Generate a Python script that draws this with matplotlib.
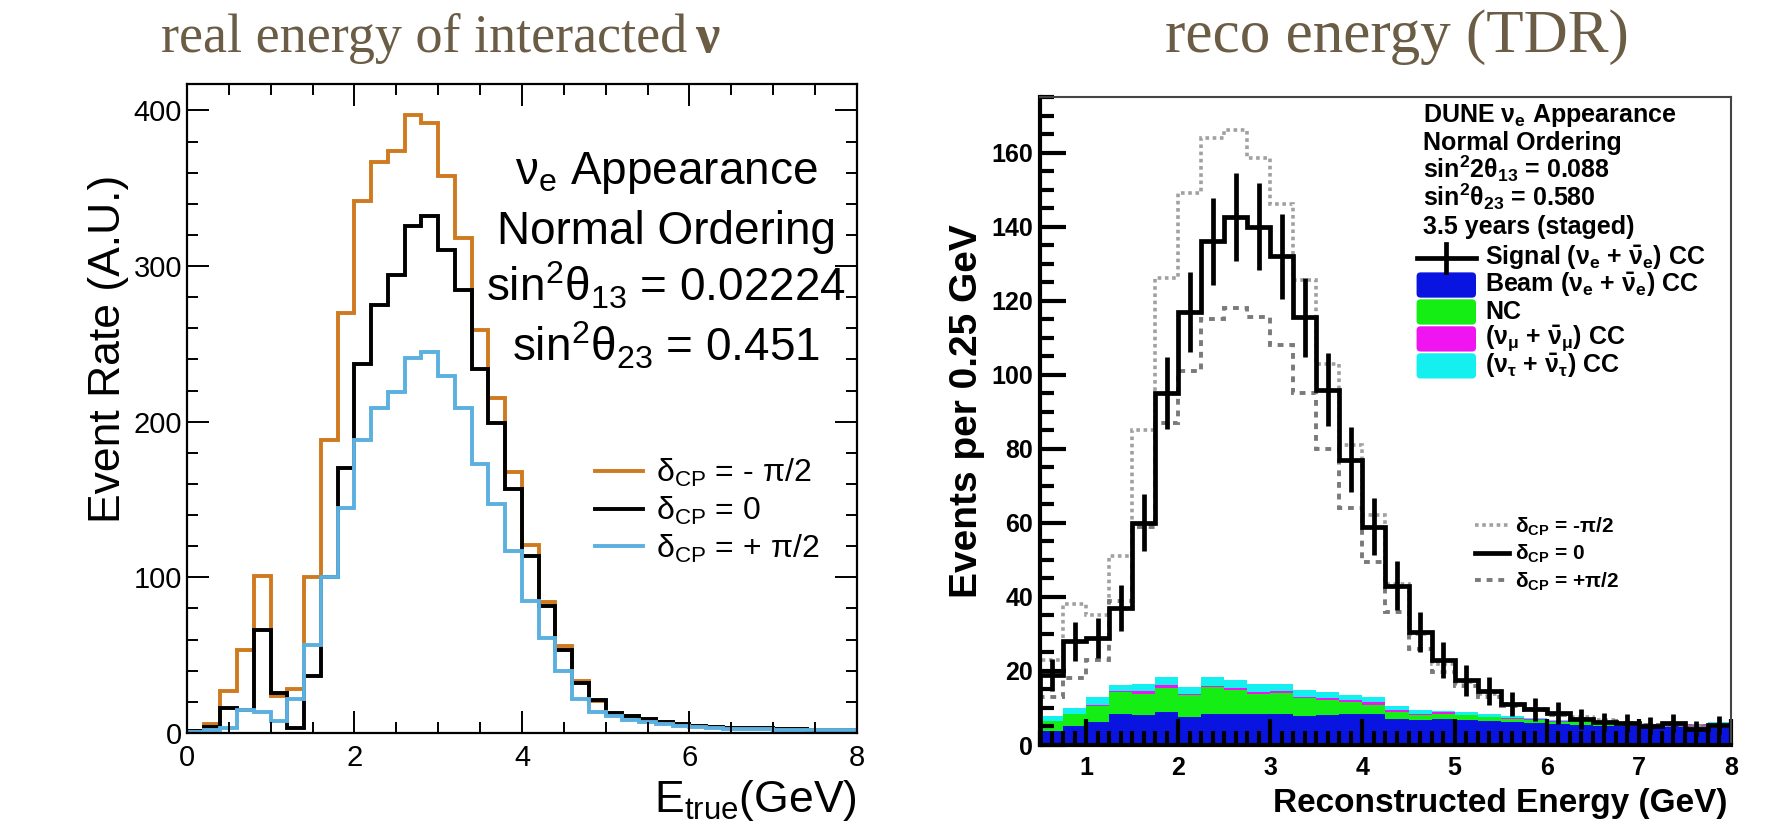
import numpy as np
import matplotlib
matplotlib.use('Agg')
import matplotlib.pyplot as plt
from matplotlib.patches import FancyBboxPatch
from matplotlib.lines import Line2D
from matplotlib.ticker import MultipleLocator

plt.rcParams['font.family'] = ['Liberation Sans', 'DejaVu Sans']
plt.rcParams['mathtext.fontset'] = 'custom'
plt.rcParams['mathtext.rm'] = 'Liberation Sans'
plt.rcParams['mathtext.it'] = 'Liberation Sans:italic'
plt.rcParams['mathtext.bf'] = 'Liberation Sans:bold'

# ---- left panel: true energy, 0.2 GeV bins from 0 to 8 ----
etrue_lo, etrue_hi, etrue_w = 0.0, 8.0, 0.2
rate_minus = [1, 6, 27, 53, 101, 23.5, 28, 100, 188.5, 270, 341.5, 367, 374, 397, 392,
              358, 318, 259, 215, 167.5, 121, 84, 56, 33.5, 20.7, 12.6, 10.6, 9, 7, 5.5,
              4.5, 4, 3.5, 3, 3, 2.5, 2.5, 2, 2, 2]
rate_zero = [1, 4, 16, 15, 66, 26, 3.5, 36.5, 100, 170, 237, 275, 294, 326, 332,
             310.5, 284.5, 234, 199, 157, 114, 81.5, 53.5, 32, 21, 12.6, 11, 9, 7, 5.5,
             4.5, 4, 3.5, 3, 3, 2.5, 2.5, 2, 2, 2]
rate_plus = [0.5, 2, 3.5, 15, 13.5, 8, 22, 56.5, 100, 144.5, 188.5, 208.5, 219, 241, 244.5,
             229.5, 208.5, 173, 147, 117, 85, 61, 40, 22, 13.5, 10.6, 8.6, 7, 5.7, 4.6,
             3.8, 3.2, 2.8, 2.5, 2.3, 2, 2, 1.8, 1.7, 1.6]
left_labels = [r'$\mathregular{\delta_{CP}}$ = - π/2', r'$\mathregular{\delta_{CP}}$ = 0',
               r'$\mathregular{\delta_{CP}}$ = + π/2']

# ---- right panel: reco energy, 0.25 GeV bins from 0.5 to 8 ----
ereco_lo, ereco_hi, ereco_w = 0.5, 8.0, 0.25
sig_zero = [19, 28, 29, 37, 60, 95, 117, 136, 142.5, 140, 132, 115.5, 96, 77, 59,
            43, 30.5, 23, 17.5, 14.7, 11, 9.6, 8.7, 7, 6.2, 6, 5.2, 6, 4.4, 5.4]
sig_err = [4.3, 5.3, 5.4, 6.1, 7.7, 9.7, 10.8, 11.7, 11.9, 11.8, 11.5, 10.7, 9.8, 8.8, 7.7,
           6.6, 5.5, 4.8, 4.2, 3.8, 3.3, 3.1, 3.0, 2.6, 2.5, 2.4, 2.3, 2.4, 2.1, 2.3]
sig_minus = [23, 38, 35, 51, 85, 126, 149, 164, 166, 158.5, 146, 125.5, 103, 81, 62,
             43.5, 30, 22, 17, 13.8, 11, 9.8, 8.5, 7.5, 6.8, 6, 5.5, 5.5, 5, 5.5]
sig_plus = [13, 18, 23, 39, 59, 87, 101, 115, 118, 115.5, 108, 95, 80, 64, 49.5,
            36, 26, 19.6, 16, 13, 10.6, 9.4, 8.2, 7, 6.5, 5.8, 5.3, 5.3, 4.8, 5.2]
bkg_beam = [3.9, 5.0, 6.1, 8.4, 8.2, 9.0, 7.6, 8.5, 8.4, 8.3, 8.4, 7.9, 8.2, 8.4, 8.4,
            7.0, 6.7, 7.0, 6.8, 6.5, 6.2, 6.0, 5.6, 5.4, 5.2, 5.0, 5.0, 5.2, 5.0, 5.3]
bkg_nc = [2.5, 3.4, 4.5, 5.8, 5.7, 6.4, 5.9, 7.1, 6.4, 5.6, 5.6, 4.8, 4.0, 3.1, 2.5,
          2.0, 1.5, 1.4, 1.2, 1.0, 0.9, 0.8, 0.7, 0.7, 0.6, 0.6, 0.5, 0.5, 0.5, 0.5]
bkg_numu = [0.2, 0.1, 0.3, 0.5, 0.6, 0.8, 0.4, 0.4, 0.5, 0.5, 0.5, 0.4, 0.6, 0.6, 0.6,
            0.4, 0.3, 0.4, 0.2, 0.1, 0.1, 0.1, 0.1, 0.1, 0.1, 0.1, 0.1, 0.1, 0.1, 0.1]
bkg_nutau = [1.1, 1.4, 2.0, 1.6, 1.9, 2.1, 1.8, 2.5, 2.2, 2.1, 2.0, 1.7, 1.4, 1.5, 1.4,
             1.2, 1.0, 0.5, 0.6, 0.9, 0.5, 0.4, 0.4, 0.3, 0.3, 0.3, 0.2, 0.2, 0.2, 0.2]
sig_label = r'Signal (ν$_\mathbf{e}$ + $\mathbf{\bar{\nu}_e}$) CC'
bkg_labels = [r'Beam (ν$_\mathbf{e}$ + $\mathbf{\bar{\nu}_e}$) CC', 'NC',
              r'($\mathbf{\nu_\mu}$ + $\mathbf{\bar{\nu}_\mu}$) CC',
              r'($\mathbf{\nu_\tau}$ + $\mathbf{\bar{\nu}_\tau}$) CC']
bkg_colors = ['#0a14e0', '#14ee14', '#f014f0', '#14f0f0']
info_lines = [r'DUNE ν$_\mathbf{e}$ Appearance', 'Normal Ordering',
              r'sin$^\mathbf{2}$2θ$_\mathbf{13}$ = 0.088', r'sin$^\mathbf{2}$θ$_\mathbf{23}$ = 0.580',
              '3.5 years (staged)']

fig = plt.figure(figsize=(17.79, 8.30), dpi=100)
title_color = '#6b5d45'

# ================= left panel =================
axL = fig.add_axes([0.1051, 0.1169, 0.3766, 0.782])
edgesL = np.arange(etrue_lo, etrue_hi + etrue_w / 2, etrue_w)
axL.stairs(rate_minus, edgesL, color='#cf7a1f', lw=2.8, label=left_labels[0])
axL.stairs(rate_zero, edgesL, color='black', lw=2.8, label=left_labels[1])
axL.stairs(rate_plus, edgesL, color='#5cb0e0', lw=2.8, label=left_labels[2])
axL.set_xlim(0, 8)
axL.set_ylim(0, 417)
axL.xaxis.set_major_locator(MultipleLocator(2))
axL.xaxis.set_minor_locator(MultipleLocator(0.5))
axL.yaxis.set_major_locator(MultipleLocator(100))
axL.yaxis.set_minor_locator(MultipleLocator(20))
axL.tick_params(which='both', direction='in', top=True, right=True, width=1.4, labelsize=21)
axL.tick_params(which='major', length=16)
axL.tick_params(which='minor', length=8)
axL.tick_params(axis='x', pad=8)
for sp in axL.spines.values():
    sp.set_linewidth(1.6)

txt_kw = dict(transform=axL.transAxes, ha='center', va='baseline', fontsize=33)
axL.text(0.715, 0.846, r'ν$_\mathregular{e}$ Appearance', **txt_kw)
axL.text(0.715, 0.754, 'Normal Ordering', **txt_kw)
axL.text(0.715, 0.664, r'sin$^\mathregular{2}$θ$_\mathregular{13}$ = 0.02224', **txt_kw)
axL.text(0.715, 0.573, r'sin$^\mathregular{2}$θ$_\mathregular{23}$ = 0.451', **txt_kw)
axL.legend(loc='upper left', bbox_to_anchor=(0.585, 0.45), frameon=False, fontsize=23,
           handlelength=1.5, handletextpad=0.4, labelspacing=0.18, borderpad=0)
fig.text(0.061, 0.58, 'Event Rate (A.U.)', rotation=90, ha='center', va='center', fontsize=32)
fig.text(857 / 1779, 1 - 812 / 830, r'E$_\mathregular{true}$(GeV)', ha='right', va='baseline',
         fontsize=32)
fig.text(0.2385, 1 - 52 / 830, 'real energy of interacted', ha='center', va='baseline',
         fontsize=39, color=title_color, family='Liberation Serif')
fig.text(0.3905, 1 - 52 / 830, 'ν', ha='left', va='baseline', fontsize=39,
         color=title_color, family='Liberation Serif', weight='bold')

# ================= right panel =================
axR = fig.add_axes([0.5846, 0.1024, 0.3884, 0.7807])
edgesR = np.arange(ereco_lo, ereco_hi + ereco_w / 2, ereco_w)
centersR = edgesR[:-1] + ereco_w / 2
base = np.zeros(len(bkg_beam))
for comp, col in zip([bkg_beam, bkg_nc, bkg_numu, bkg_nutau], bkg_colors):
    top = base + np.array(comp)
    axR.stairs(top, edgesR, baseline=base, fill=True, color=col, lw=0)
    base = top
axR.stairs(sig_minus, edgesR, color='#a0a0a0', lw=2.6, ls=(0, (1, 1)))
axR.stairs(sig_plus, edgesR, color='#7a7a7a', lw=2.8, ls=(0, (1.5, 1.5)))
axR.stairs(sig_zero, edgesR, color='black', lw=3.4)
axR.errorbar(centersR, sig_zero, yerr=sig_err, fmt='none', ecolor='black', elinewidth=3.4)
axR.set_xlim(ereco_lo, ereco_hi)
axR.set_ylim(0, 175)
axR.xaxis.set_major_locator(MultipleLocator(1))
axR.xaxis.set_minor_locator(MultipleLocator(0.125))
axR.yaxis.set_major_locator(MultipleLocator(20))
axR.yaxis.set_minor_locator(MultipleLocator(5))
axR.tick_params(which='both', direction='in', width=3, labelsize=18)
axR.tick_params(which='major', length=19)
axR.tick_params(which='minor', length=10)
axR.tick_params(axis='x', pad=8)
axR.tick_params(axis='y', pad=5)
for lab in axR.get_xticklabels() + axR.get_yticklabels():
    lab.set_fontweight('bold')
axR.spines['left'].set_linewidth(3)
axR.spines['bottom'].set_linewidth(3)
for s in ['top', 'right']:
    axR.spines[s].set_linewidth(1.5)
    axR.spines[s].set_color('#444444')

blk_kw = dict(transform=axR.transAxes, ha='left', va='baseline', fontsize=18, weight='bold')
for i, line in enumerate(info_lines):
    axR.text(0.554, 0.961 - i * 0.0432, line, **blk_kw)

# hand-placed legend for signal + background stack
row_y = [0.7515 - i * 0.0416 for i in range(5)]
hx0, hx1, tx = 0.545, 0.631, 0.644
axR.add_line(Line2D([hx0, hx1], [row_y[0], row_y[0]], transform=axR.transAxes,
                    color='black', lw=3.4))
axR.add_line(Line2D([(hx0 + hx1) / 2] * 2, [row_y[0] - 0.021, row_y[0] + 0.021],
                    transform=axR.transAxes, color='black', lw=3.4))
axR.text(tx, row_y[0], sig_label, transform=axR.transAxes, ha='left', va='center',
         fontsize=18, weight='bold')
for y, lab, col in zip(row_y[1:], bkg_labels, bkg_colors):
    axR.add_patch(FancyBboxPatch((hx0 + 0.006, y - 0.0135), hx1 - hx0 - 0.012, 0.027,
                                 boxstyle='round,pad=0.006', transform=axR.transAxes,
                                 facecolor=col, edgecolor='none'))
    axR.text(tx, y, lab, transform=axR.transAxes, ha='left', va='center',
             fontsize=18, weight='bold')

h_d = [Line2D([], [], color='#a0a0a0', lw=2.6, ls=(0, (1, 1))),
       Line2D([], [], color='black', lw=3.4),
       Line2D([], [], color='#7a7a7a', lw=2.8, ls=(0, (1.5, 1.5)))]
axR.legend(h_d, [r'$\mathbf{\delta_{CP}}$ = -π/2', r'$\mathbf{\delta_{CP}}$ = 0',
                 r'$\mathbf{\delta_{CP}}$ = +π/2'],
           loc='upper left', bbox_to_anchor=(0.615, 0.37), frameon=False,
           prop={'size': 15, 'weight': 'bold'}, handlelength=1.6, handletextpad=0.3,
           labelspacing=0.25, borderpad=0)

fig.text(0.5435, 0.505, 'Events per 0.25 GeV', rotation=90, ha='center', va='center',
         fontsize=28, weight='bold')
fig.text(1727 / 1779, 1 - 812 / 830, 'Reconstructed Energy (GeV)', ha='right', va='baseline',
         fontsize=24, weight='bold')
fig.text(0.785, 1 - 52 / 830, 'reco energy (TDR)', ha='center', va='baseline',
         fontsize=44, color=title_color, family='Liberation Serif')

fig.savefig('out.png', dpi=100)
